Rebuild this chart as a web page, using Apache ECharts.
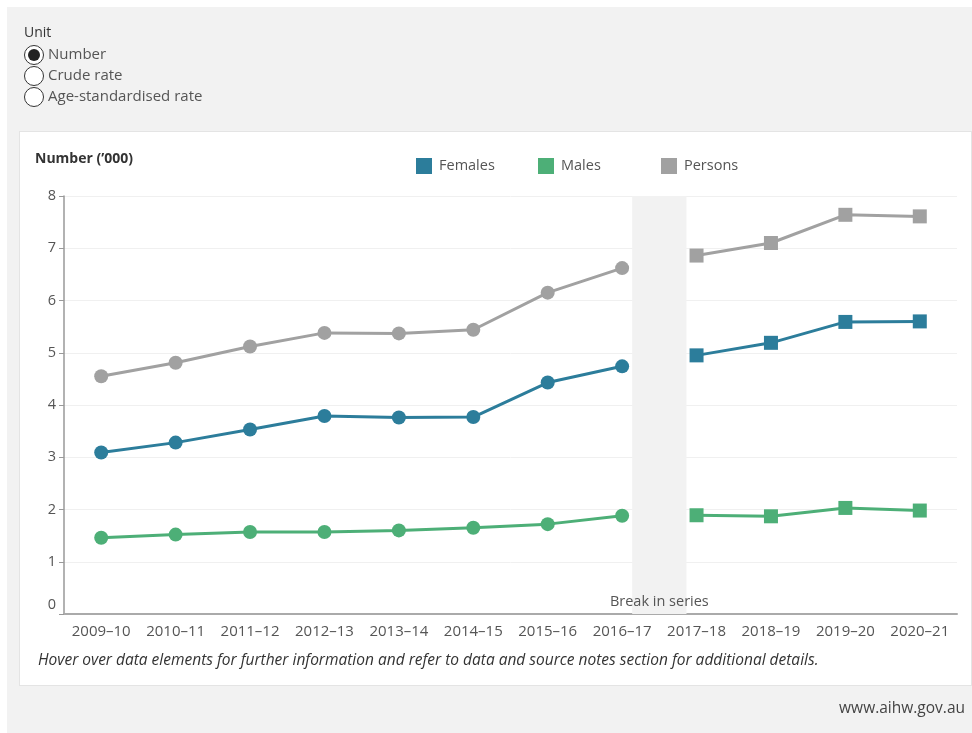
<!DOCTYPE html>
<html>
<head>
<meta charset="utf-8">
<script src="https://cdn.jsdelivr.net/npm/echarts@6/dist/echarts.min.js"></script>
<style>
html,body{margin:0;padding:0;background:#fff;}
#page{position:absolute;left:7px;top:7px;width:965px;height:726px;background:#f2f2f2;}
#card{position:absolute;left:19px;top:131px;width:953px;height:555px;background:#fff;border:1px solid #e4e4e4;box-sizing:border-box;}
#chart{position:absolute;left:0;top:0;width:972px;height:733px;}
</style>
</head>
<body>
<div id="page"></div>
<div id="card"></div>
<div id="chart"></div>
<script>
const categories = ['2009–10','2010–11','2011–12','2012–13','2013–14','2014–15','2015–16','2016–17','2017–18','2018–19','2019–20','2020–21'];
// Values in '000; first 8 years before the break, last 4 after the break
const females = [3.09, 3.28, 3.53, 3.79, 3.76, 3.77, 4.43, 4.74, 4.95, 5.19, 5.59, 5.60];
const males   = [1.46, 1.52, 1.57, 1.57, 1.60, 1.65, 1.72, 1.88, 1.89, 1.87, 2.03, 1.98];
const persons = [4.55, 4.81, 5.12, 5.38, 5.37, 5.44, 6.15, 6.62, 6.86, 7.10, 7.64, 7.61];
const breakIndex = 8; // first year after the break in series
const yTicks = [0, 1, 2, 3, 4, 5, 6, 7, 8];
const unitOptions = ['Number', 'Crude rate', 'Age-standardised rate'];

const colors = {Females: '#2c7d9b', Males: '#4daf77', Persons: '#a1a1a1'};
const FONT = '"Open Sans", Lato, sans-serif';

function before(arr){ return arr.map((v,i)=> i < breakIndex ? v : null); }
function after(arr){ return arr.map((v,i)=> i >= breakIndex ? v : null); }

const seriesDefs = [['Persons', persons], ['Females', females], ['Males', males]];
const series = [];
seriesDefs.forEach(([name, arr]) => {
  series.push({
    name, type: 'line', data: before(arr), symbol: 'circle', symbolSize: 14,
    lineStyle: {width: 3, color: colors[name]}, itemStyle: {color: colors[name]},
    connectNulls: false, z: 3
  });
  series.push({
    name, type: 'line', data: after(arr), symbol: 'rect', symbolSize: 14,
    lineStyle: {width: 3, color: colors[name]}, itemStyle: {color: colors[name]},
    connectNulls: false, z: 3
  });
});
// break in series band on a hidden value x-axis spanning the categories
series.push({
  type: 'line', xAxisIndex: 1, data: [], silent: true,
  markArea: {
    silent: true,
    itemStyle: {color: '#f2f2f2'},
    label: {show: true, position: 'insideBottom', distance: 5, formatter: 'Break in series',
            color: '#555', fontSize: 14.5, fontFamily: FONT},
    data: [[{xAxis: breakIndex - 0.365, yAxis: 0}, {xAxis: breakIndex + 0.365, yAxis: 8}]]
  },
  z: 1
});

const legendNames = ['Females', 'Males', 'Persons'];
const legendLefts = [411, 533, 656];
const legends = legendNames.map((n, i) => ({
  data: [{name: n, icon: 'rect'}],
  left: legendLefts[i], top: 153, itemWidth: 16, itemHeight: 16, itemGap: 0,
  textStyle: {color: '#555', fontSize: 14.5, fontFamily: FONT, padding: [0,0,0,2]},
  selectedMode: false
}));

const graphics = [
  {type: 'text', left: 24, top: 26, style: {text: 'Unit', fill: '#333', font: '14px ' + FONT}}
];
unitOptions.forEach((t, i) => {
  const cy = 55 + i * 21;
  graphics.push({type: 'circle', shape: {cx: 34, cy: cy, r: 9.5}, style: {fill: '#fff', stroke: '#333', lineWidth: 1}});
  if (i === 0) graphics.push({type: 'circle', shape: {cx: 34, cy: cy, r: 6}, style: {fill: '#222'}});
  graphics.push({type: 'text', x: 48, y: cy, style: {text: t, fill: '#555', font: '15px ' + FONT, verticalAlign: 'middle'}});
});
graphics.push({type: 'text', left: 35, top: 152, style: {text: 'Number (’000)', fill: '#333', font: 'bold 14px ' + FONT}});
graphics.push({type: 'text', left: 38, top: 653, style: {text: 'Hover over data elements for further information and refer to data and source notes section for additional details.', fill: '#333', font: 'italic 15.5px ' + FONT}});
graphics.push({type: 'text', right: 7, top: 701, style: {text: 'www.aihw.gov.au', fill: '#444', font: '15.5px ' + FONT}});

const chart = echarts.init(document.getElementById('chart'), null, {renderer: 'canvas'});
chart.setOption({
  animation: false,
  textStyle: {fontFamily: FONT},
  legend: legends,
  grid: {left: 64, right: 15, top: 196, bottom: 119, containLabel: false},
  xAxis: [{
    type: 'category', data: categories, boundaryGap: true,
    axisLine: {lineStyle: {color: '#aaa', width: 2}},
    axisTick: {show: false},
    axisLabel: {color: '#555', fontSize: 15, fontFamily: FONT, margin: 10, interval: 0},
    splitLine: {show: false}
  }, {
    type: 'value', min: 0, max: categories.length, show: false
  }],
  yAxis: {
    type: 'value', min: 0, max: 8, interval: 1,
    axisLine: {show: true, lineStyle: {color: '#999', width: 1.5}},
    axisTick: {show: true, length: 5, lineStyle: {color: '#999'}},
    axisLabel: {color: '#555', fontSize: 14.5, fontFamily: FONT, margin: 8,
      formatter: v => v === 0 ? '{z|0}' : (yTicks.includes(v) ? String(v) : ''),
      rich: {z: {color: '#555', fontSize: 14.5, fontFamily: FONT, padding: [0, 0, 18, 0]}}},
    splitLine: {lineStyle: {color: '#f0f0f0', width: 1}}
  },
  series: series,
  graphic: graphics
});
</script>
</body>
</html>
